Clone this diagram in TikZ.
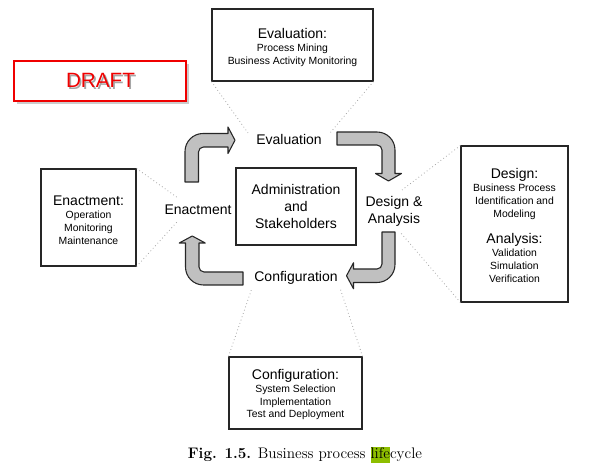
\documentclass[tikz,border=0pt]{standalone}
\usepackage{fontspec}
\newfontfamily\arial{Liberation Sans}
\usetikzlibrary{fit,shadows}
\definecolor{arrowfill}{RGB}{192,192,192}
\definecolor{hl}{RGB}{141,190,0}
\definecolor{draftred}{RGB}{240,0,0}
\newcommand\hdf{\fontsize{10.5}{12.4}\selectfont}
\newcommand\smf{\fontsize{7.8}{9.6}\selectfont}
\begin{document}
\begin{tikzpicture}[x=0.75pt,y=-0.75pt,
 box/.style={draw=black!85, line width=0.8pt, inner sep=0pt},
 boxtext/.style={inner sep=0pt, align=center, font=\arial\smf},
 lbl/.style={inner sep=0pt, align=center, font=\arial\hdf},
 call/.style={draw=black!35, dotted, line width=0.6pt},
 blk/.style={fill=arrowfill, draw=black!85, line width=0.8pt, line join=round},
 drafttxt/.style={font=\arial\fontsize{15.5}{18}\selectfont, inner sep=0pt}]
\useasboundingbox (0,0) rectangle (613,473);

% DRAFT stamp
\node[draw=draftred, line width=1.6pt, fill=white, inner sep=0pt,
      drop shadow={shadow xshift=2pt, shadow yshift=-2pt, opacity=0.4},
      fit={(14,61) (186,101)}] (dr) {};
\coordinate (dc) at (100.5,80.5);
\node[drafttxt, text=black!35] (drs) at ([xshift=1.2pt,yshift=-1.2pt]dc) {DRAFT};
\node[drafttxt, text=draftred] (drt) at (dc) {DRAFT};

% boxes
\node[box, fit={(212,9) (373,81)}] (ev) {};
\node[box, fit={(41,169) (136,266)}] (en) {};
\node[box, fit={(461,146) (568,302)}] (ds) {};
\node[box, fit={(229,357) (362,429)}] (cf) {};
\node[box, fit={(236,168) (356,245)}] (adm) {};

\node[boxtext] (evt) at ([yshift=-2pt]ev.center) {{\hdf Evaluation:}\\[0.3pt]Process Mining\\Business Activity Monitoring};
\node[boxtext] (ent) at ([yshift=-1.8pt]en.center) {{\hdf Enactment:}\\[0.3pt]Operation\\Monitoring\\Maintenance};
\node[boxtext] (dst) at ([yshift=-1pt]ds.center) {{\hdf Design:}\\[0.3pt]Business Process\\Identification and\\Modeling\\[10.4pt]{\hdf Analysis:}\\[0.3pt]Validation\\Simulation\\Verification};
\node[boxtext] (cft) at ([yshift=-1.2pt]cf.center) {{\hdf Configuration:}\\[0.3pt]System Selection\\Implementation\\Test and Deployment};
\node[lbl] (admt) at (adm.center) {Administration\\and\\Stakeholders};

% labels
\node[lbl] (evl) at (289,139) {Evaluation};
\node[lbl] (dsl) at (394,211.5) {Design \&\\Analysis};
\node[lbl] (enl) at (198,210) {Enactment};
\node[lbl] (cfl) at (296,278) {Configuration};

% callout lines
\coordinate (evA) at (248,133); \coordinate (evB) at (330,133);
\coordinate (enA) at (178,198); \coordinate (enB) at (177,222);
\coordinate (dsA) at (402,190); \coordinate (dsB) at (400,232);
\coordinate (cfA) at (252,288); \coordinate (cfB) at (340,288);
\draw[call] (ev.south west) -- (evA);
\draw[call] (ev.south east) -- (evB);
\draw[call] (en.north east) -- (enA);
\draw[call] (en.south east) -- (enB);
\draw[call] (ds.north west) -- (dsA);
\draw[call] (ds.south west) -- (dsB);
\draw[call] (cf.north west) -- (cfA);
\draw[call] (cf.north east) -- (cfB);

% block arrows
\filldraw[blk] (185,182) -- (185,151.5) .. controls (185,141.56) and (193.06,133.5) .. (203,133.5) -- (228,133.5) -- (228,127) -- (235,140.25) -- (228,153.5) -- (228,147) -- (203.5,147) .. controls (200.74,147) and (198.5,149.24) .. (198.5,152) -- (198.5,182) -- cycle;
\filldraw[blk] (337,132) -- (377,132) .. controls (386.94,132) and (395,140.06) .. (395,150) -- (395,173.5) -- (401.5,173.5) -- (388.5,181) -- (375.5,173.5) -- (382,173.5) -- (382,150) .. controls (382,147.24) and (379.76,145) .. (377,145) -- (337,145) -- cycle;
\filldraw[blk] (382,232) -- (395,232) -- (395,264.5) .. controls (395,274.44) and (386.94,282.5) .. (377,282.5) -- (353.5,282.5) -- (353.5,288.75) -- (346.5,275.75) -- (353.5,262.75) -- (353.5,269) -- (377,269) .. controls (379.76,269) and (382,266.76) .. (382,264) -- cycle;
\filldraw[blk] (243,272) -- (243,285) -- (203.5,285) .. controls (193.56,285) and (185.5,276.94) .. (185.5,267) -- (185.5,243) -- (179.25,243) -- (192.25,236) -- (205.25,243) -- (199,243) -- (199,267) .. controls (199,269.76) and (201.24,272) .. (204,272) -- cycle;

% caption
\node[font=\fontsize{11.45}{13}\selectfont, inner sep=0pt, anchor=base] (cap) at (305,458.3)
  {\textbf{Fig. 1.5.} Business process {\setlength{\fboxsep}{0pt}\colorbox{hl}{\rule[-3.3pt]{0pt}{11.5pt}life}}cycle};
\end{tikzpicture}
\end{document}
